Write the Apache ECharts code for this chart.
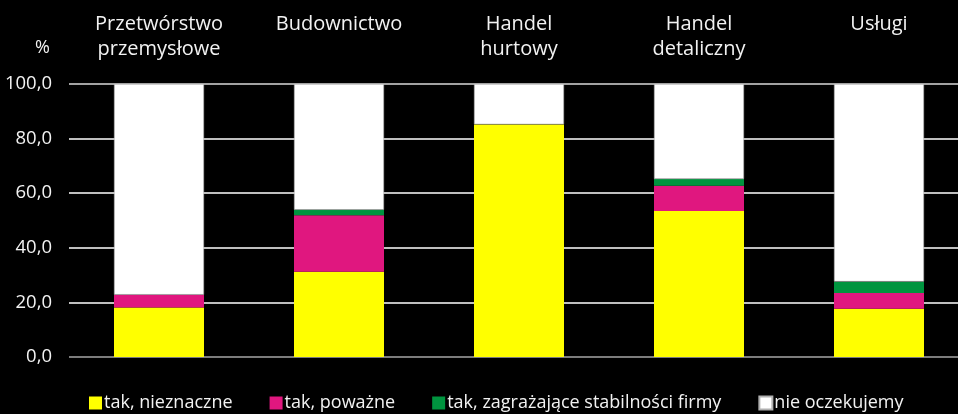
<!DOCTYPE html>
<html>
<head>
<meta charset="utf-8">
<script src="https://cdn.jsdelivr.net/npm/echarts@6/dist/echarts.min.js"></script>
<style>
html,body{margin:0;padding:0;background:#000;overflow:hidden;width:958px;height:414px;}
#c{width:969px;height:414px;}
</style>
</head>
<body>
<div id="c"></div>
<script>
var categories = ['Przetwórstwo\nprzemysłowe', 'Budownictwo', 'Handel\nhurtowy', 'Handel\ndetaliczny', 'Usługi'];
var seriesNames = ['tak, nieznaczne', 'tak, poważne', 'tak, zagrażające stabilności firmy', 'nie oczekujemy'];
var nieznaczne = [18.1, 31.2, 85.2, 53.5, 17.7];
var powazne = [4.7, 20.7, 0, 9.2, 5.7];
var zagrazajace = [0, 2.0, 0, 2.5, 4.2];
var nieOczekujemy = [77.2, 46.1, 14.8, 34.8, 72.4];
var yTicks = [0, 20, 40, 60, 80, 100];

var FONT = 'Open Sans';
var colors = ['#ffff00', '#e0177f', '#00943f', '#ffffff'];
var dataSets = [nieznaczne, powazne, zagrazajace, nieOczekujemy];

var chart = echarts.init(document.getElementById('c'));
var series = seriesNames.map(function (n, i) {
  return {
    name: n,
    type: 'bar',
    stack: 'total',
    barWidth: 90,
    data: dataSets[i],
    itemStyle: i === 3 ? {color: colors[i], borderColor: '#b0b0b0', borderWidth: 0.6} : {color: colors[i]}
  };
});

chart.setOption({
  backgroundColor: '#000000',
  animation: false,
  textStyle: {fontFamily: FONT},
  grid: {left: 69, right: 0, top: 84, bottom: 57, containLabel: false},
  legend: {
    left: 84,
    bottom: -3,
    itemWidth: 13,
    itemHeight: 13,
    itemGap: 37,
    icon: 'rect',
    textStyle: {color: '#f2f2f2', fontSize: 18, fontFamily: FONT, padding: [0, 0, 0, -3]},
    data: seriesNames
  },
  xAxis: {
    type: 'category',
    position: 'top',
    data: categories,
    axisLine: {show: false},
    axisTick: {show: false},
    axisLabel: {
      color: '#f2f2f2',
      fontSize: 20,
      fontFamily: FONT,
      margin: 72,
      verticalAlign: 'top',
      lineHeight: 25,
      interval: 0
    }
  },
  yAxis: {
    type: 'value',
    min: yTicks[0],
    max: yTicks[yTicks.length - 1],
    interval: 20,
    name: '%',
    nameLocation: 'end',
    nameGap: 27,
    nameTextStyle: {color: '#f2f2f2', fontSize: 18, fontFamily: FONT, align: 'right', padding: [0, 19, 0, 0]},
    axisLine: {show: false},
    axisTick: {show: false},
    axisLabel: {
      color: '#f2f2f2',
      fontSize: 18.5,
      fontFamily: FONT,
      margin: 17,
      formatter: function (v) { return v.toFixed(1).replace('.', ','); }
    },
    splitLine: {
      lineStyle: {color: ['#a6a6a6', '#ffffff', '#ffffff', '#ffffff', '#ffffff', '#d9d9d9'], width: 1.5}
    }
  },
  series: series
});
</script>
</body>
</html>
